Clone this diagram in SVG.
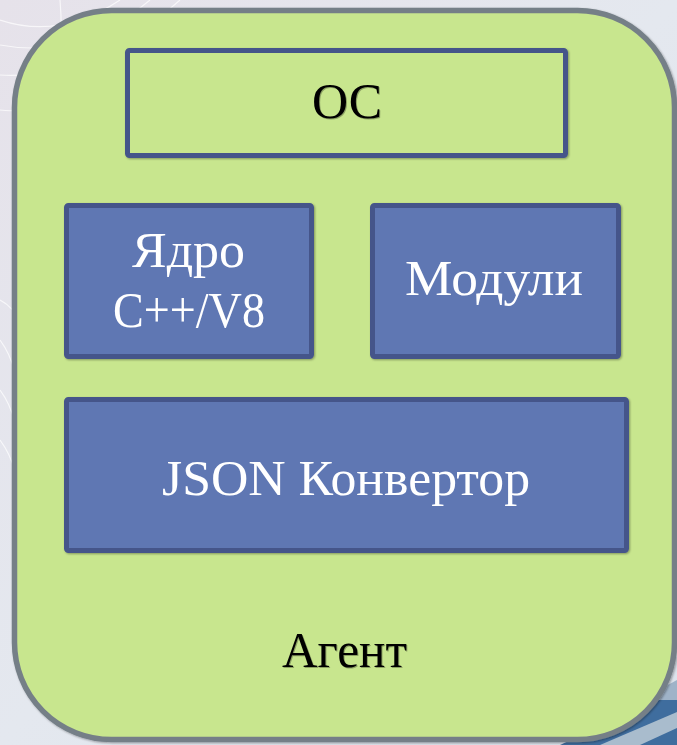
<svg xmlns="http://www.w3.org/2000/svg" width="677" height="745" viewBox="0 0 677 745">
<defs>
<linearGradient id="bg" x1="0" y1="0" x2="1" y2="1">
<stop offset="0" stop-color="#e6e2ea"/>
<stop offset="0.5" stop-color="#e4e8ef"/>
<stop offset="1" stop-color="#dce3ec"/>
</linearGradient>
<filter id="sh" x="-5%" y="-5%" width="110%" height="110%">
<feDropShadow dx="1" dy="1" stdDeviation="1" flood-color="#000" flood-opacity="0.35"/>
</filter>
<filter id="tsh" x="-5%" y="-5%" width="110%" height="120%">
<feDropShadow dx="1" dy="1" stdDeviation="0.6" flood-color="#000" flood-opacity="0.3"/>
</filter>
</defs>
<style>
.outer{fill:#c8e68e;stroke:#757f87;stroke-width:5.5}
.frame{fill:#c8e68e;stroke:#44548a;stroke-width:5}
.box{fill:#5f77b3;stroke:#44548a;stroke-width:5}
text{font-family:"Liberation Serif","DejaVu Serif",serif;font-size:50px;text-anchor:middle}
.dark{fill:#000}
.light{fill:#fff}
.bgline{fill:none;stroke:#ffffff;stroke-opacity:0.7;stroke-width:1.2}
</style>
<rect x="0" y="0" width="677" height="745" fill="url(#bg)"/>
<g id="background">
<path class="bgline" d="M0 20 Q60 40 120 0"/>
<path class="bgline" d="M0 45 Q80 60 150 0"/>
<path class="bgline" d="M0 75 Q90 80 180 0"/>
<path class="bgline" d="M0 110 Q70 120 60 0"/>
<path class="bgline" d="M0 300 Q40 320 20 420"/>
<path class="bgline" d="M0 340 Q30 380 14 470"/>
<path class="bgline" d="M0 390 Q30 430 14 520"/>
<path class="bgline" d="M0 440 Q30 480 14 560"/>
<path d="M560 745 L677 690 L677 745 Z" fill="#3f6d9e"/>
<path d="M600 745 L677 712 L677 728 L640 745 Z" fill="#a9bccd"/>
<path d="M640 700 L677 680 L677 700 Z" fill="#9fb3c8"/>
</g>
<g id="agent">
<rect class="outer" x="14.5" y="10.5" width="660" height="729" rx="97" ry="97" filter="url(#sh)"/>
<text class="dark" x="344.5" y="667" textLength="125" lengthAdjust="spacingAndGlyphs" filter="url(#tsh)">Агент</text>
</g>
<g id="os">
<rect class="frame" x="127.5" y="50.5" width="438" height="105" rx="2" filter="url(#sh)"/>
<text class="dark" x="347" y="118" textLength="70" lengthAdjust="spacingAndGlyphs" filter="url(#tsh)">ОС</text>
</g>
<g id="core">
<rect class="box" x="66.5" y="205.5" width="245" height="151" rx="2" filter="url(#sh)"/>
<text class="light" x="188.5" y="267" textLength="113" lengthAdjust="spacingAndGlyphs">Ядро</text>
<text class="light" x="189" y="327" textLength="152" lengthAdjust="spacingAndGlyphs">C++/V8</text>
</g>
<g id="modules">
<rect class="box" x="372.5" y="205.5" width="246" height="151" rx="2" filter="url(#sh)"/>
<text class="light" x="494" y="295" textLength="178" lengthAdjust="spacingAndGlyphs">Модули</text>
</g>
<g id="json">
<rect class="box" x="66.5" y="399.5" width="560" height="151" rx="2" filter="url(#sh)"/>
<text class="light" x="346" y="495" textLength="368" lengthAdjust="spacingAndGlyphs">JSON Конвертор</text>
</g>
<g id="connectors"></g>
</svg>
